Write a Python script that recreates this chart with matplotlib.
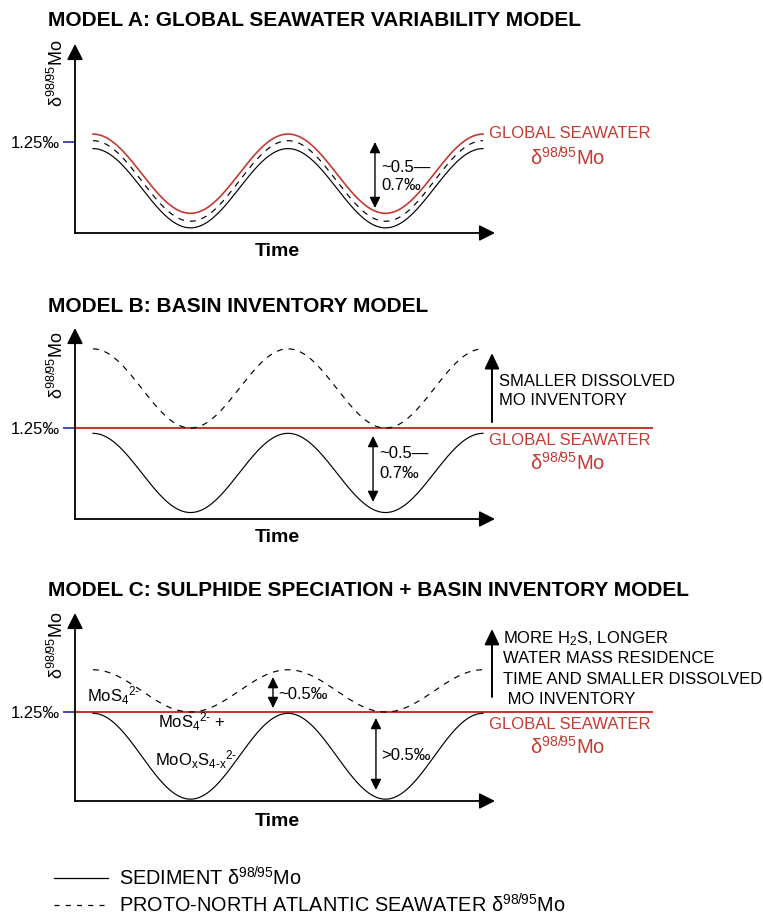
import numpy as np
import matplotlib
matplotlib.use("Agg")
import matplotlib.pyplot as plt

plt.rcParams["font.family"] = ["Liberation Sans", "DejaVu Sans"]
plt.rcParams["mathtext.fontset"] = "custom"
plt.rcParams["mathtext.rm"] = "Liberation Sans"
plt.rcParams["mathtext.it"] = "Liberation Sans:italic"
plt.rcParams["mathtext.bf"] = "Liberation Sans:bold"
plt.rcParams["mathtext.default"] = "regular"

# ---- schematic values (‰); time in cycles, peaks at t = 0, 1, 2 ----
seawater_ref = 1.25
cycles = 2

# Model A: peak / trough of each curve
a_global = (1.31, 0.71)
a_proto = (1.26, 0.65)
a_sediment = (1.20, 0.60)

# Model B
b_proto = (1.85, 1.25)
b_sediment = (1.21, 0.61)

# Model C
c_proto = (1.57, 1.25)
c_sediment = (1.24, 0.59)

titles = ["MODEL A: GLOBAL SEAWATER VARIABILITY MODEL",
          "MODEL B: BASIN INVENTORY MODEL",
          "MODEL C: SULPHIDE SPECIATION + BASIN INVENTORY MODEL"]
tick_label = "1.25‰"
delta_label = r"δ$^{98/95}$Mo"

RED = "#c33b32"
BLUE = "#3b3ba8"
W, H = 763, 915

fig = plt.figure(figsize=(W / 100, H / 100), dpi=100)


def fig_xy(px, py):
    return px / W, 1 - py / H


def wave(peak_trough, n=400):
    pk, tr = peak_trough
    t = np.linspace(0, cycles, n)
    mid, amp = (pk + tr) / 2, (pk - tr) / 2
    return t, mid + amp * np.cos(2 * np.pi * t)


XLIM = (-0.0923, 2.0615)


def make_panel(top_px, bottom_px, ylim):
    ax = fig.add_axes([75 / W, 1 - bottom_px / H, 420 / W, (bottom_px - top_px) / H])
    ax.set_xlim(*XLIM)
    ax.set_ylim(*ylim)
    for s in ax.spines.values():
        s.set_visible(False)
    ax.set_xticks([])
    ax.set_yticks([seawater_ref])
    ax.set_yticklabels([tick_label], fontsize=12)
    ax.tick_params(axis="y", length=9, width=1.3, color=BLUE, pad=2)
    ax.patch.set_alpha(0)
    head = "-|>,head_length=0.95,head_width=0.48"
    for end in [(0, 1), (1, 0)]:
        ax.annotate("", xy=end, xytext=(0, 0), xycoords="axes fraction",
                    arrowprops=dict(arrowstyle=head, lw=1.3, color="k",
                                    shrinkA=0, shrinkB=0, mutation_scale=10))
    return ax


def dbl_arrow(ax, x, y0, y1):
    ax.annotate("", xy=(x, y1), xytext=(x, y0),
                arrowprops=dict(arrowstyle="<|-|>,head_length=0.65,head_width=0.32",
                                lw=1.0, color="k", shrinkA=0, shrinkB=0,
                                mutation_scale=10))


def up_arrow(ax, x, y0, y1):
    ax.annotate("", xy=(x, y1), xytext=(x, y0), annotation_clip=False,
                arrowprops=dict(arrowstyle="-|>,head_length=0.95,head_width=0.45",
                                lw=1.4, color="k", shrinkA=0, shrinkB=0,
                                mutation_scale=10))


def seawater_label(ax, y1, y2):
    ax.text(2.03, y1, "GLOBAL SEAWATER", color=RED, fontsize=12,
            va="center", ha="left", clip_on=False)
    ax.text(2.436, y2, delta_label, color=RED, fontsize=14.5,
            va="center", ha="center", clip_on=False)


sed_kw = dict(color="k", lw=0.85)
proto_kw = dict(color="k", lw=0.85, dashes=(5, 5))

# ---------------- Model A ----------------
axA = make_panel(44, 233, (0.561, 1.992))
axA.plot(*wave(a_sediment), **sed_kw)
axA.plot(*wave(a_proto), **proto_kw)
axA.plot(*wave(a_global), color=RED, lw=1.2)
dbl_arrow(axA, 1.446, 1.25, 0.75)
axA.text(1.477, 1.06, "~0.5—", fontsize=12, va="center")
axA.text(1.477, 0.917, "0.7‰", fontsize=12, va="center")
seawater_label(axA, 1.318, 1.129)

# ---------------- Model B ----------------
axB = make_panel(328, 519, (0.561, 2.008))
axB.plot([XLIM[0], 2.867], [seawater_ref] * 2, color=RED, lw=1.5, clip_on=False)
axB.plot(*wave(b_proto), **proto_kw)
axB.plot(*wave(b_sediment), **sed_kw)
dbl_arrow(axB, 1.436, 1.19, 0.69)
axB.text(1.467, 1.06, "~0.5—", fontsize=12, va="center")
axB.text(1.467, 0.909, "0.7‰", fontsize=12, va="center")
up_arrow(axB, 2.046, 1.295, 1.818)
axB.text(2.082, 1.606, "SMALLER DISSOLVED", fontsize=12, va="center", clip_on=False)
axB.text(2.082, 1.455, "MO INVENTORY", fontsize=12, va="center", clip_on=False)
seawater_label(axB, 1.159, 0.985)

# ---------------- Model C ----------------
axC = make_panel(613, 801, (0.576, 2.0))
axC.plot([XLIM[0], 2.867], [seawater_ref] * 2, color=RED, lw=1.5, clip_on=False)
axC.plot(*wave(c_proto), **proto_kw)
axC.plot(*wave(c_sediment), **sed_kw)
dbl_arrow(axC, 0.923, 1.515, 1.28)
axC.text(0.949, 1.386, "~0.5‰", fontsize=12, va="center")
axC.text(-0.031, 1.371, r"MoS$_4$$^{\text{2-}}$", fontsize=12, va="center")
axC.text(0.333, 1.174, r"MoS$_4$$^{\text{2-}}$ +", fontsize=12, va="center")
axC.text(0.318, 0.886, r"MoO$_x$S$_{\text{4-x}}$$^{\text{2-}}$", fontsize=12, va="center")
dbl_arrow(axC, 1.451, 1.205, 0.659)
axC.text(1.477, 0.924, ">0.5‰", fontsize=12, va="center")
up_arrow(axC, 2.046, 1.364, 1.879)
for y, s in [(1.803, r"MORE H$_2$S, LONGER"), (1.652, "WATER MASS RESIDENCE"),
             (1.50, "TIME AND SMALLER DISSOLVED"), (1.348, " MO INVENTORY")]:
    axC.text(2.103, y, s, fontsize=12, va="center", clip_on=False)
seawater_label(axC, 1.152, 0.985)

# ---------------- titles, axis names ----------------
for py, t in zip([20, 307, 590], titles):
    fig.text(*fig_xy(48, py), t, fontsize=15, fontweight="bold", va="center")
for py in [252, 538, 821]:
    fig.text(*fig_xy(277, py), "Time", fontsize=14, fontweight="bold",
             ha="center", va="center")
for py in [73, 365, 645]:
    fig.text(*fig_xy(57, py), delta_label, fontsize=13, rotation=90,
             ha="center", va="center")

# ---------------- legend ----------------
leg = fig.add_axes([0, 0, 1, 1])
leg.set_xlim(0, W)
leg.set_ylim(H, 0)
leg.axis("off")
leg.plot([54, 108], [878, 878], color="k", lw=0.9)
leg.plot([54, 108], [905, 905], color="k", lw=0.9, dashes=(4, 5))
leg.text(119, 878, r"SEDIMENT δ$^{98/95}$Mo", fontsize=14.3, va="center")
leg.text(119, 905, r"PROTO-NORTH ATLANTIC SEAWATER δ$^{98/95}$Mo", fontsize=14.3, va="center")

fig.savefig("out.png", dpi=100)
